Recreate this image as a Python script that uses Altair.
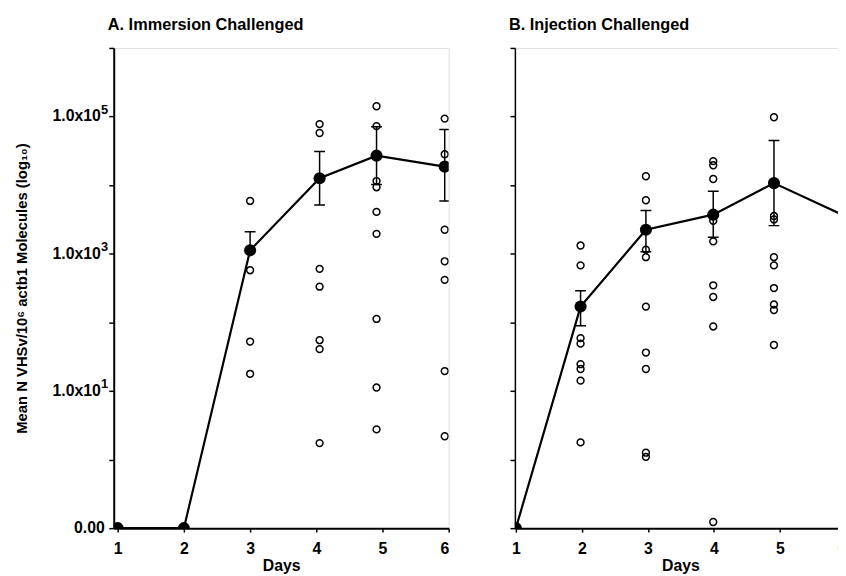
import altair as alt
import pandas as pd

# ---------------- data ----------------
# values are log10(mean N VHSv / 10^6 actb1 molecules); -1 marks a zero, drawn at "0.00"
days = [1, 2, 3, 4, 5, 6]

# Panel A - immersion challenged
xpos_A = [1.0, 2.0, 3.0, 4.05, 4.91, 5.94]
mean_A = [-1, -1, 3.05, 4.10, 4.43, 4.27]
hi_A = [None, None, 3.32, 4.49, 4.85, 4.81]
lo_A = [None, None, None, 3.71, 4.01, 3.77]
fish_A = {
    3: [3.77, 2.76, 1.72, 1.25],
    4: [4.89, 4.76, 2.78, 2.52, 1.74, 1.61, 0.24],
    5: [5.15, 4.86, 4.06, 3.97, 3.61, 3.29, 2.05, 1.05, 0.44],
    6: [4.97, 4.45, 3.35, 2.89, 2.62, 1.29, 0.34],
}

# Panel B - injection challenged
xpos_B = [1.0, 1.98, 2.97, 3.99, 4.91, 5.99]
mean_B = [-1, 2.23, 3.35, 3.57, 4.03, 3.55]
hi_B = [None, 2.46, 3.63, 3.91, 4.65, 4.07]
lo_B = [None, 1.95, 3.03, 3.24, 3.41, 2.98]
fish_B = {
    2: [3.12, 2.83, 1.77, 1.69, 1.39, 1.32, 1.15, 0.25],
    3: [4.13, 3.78, 3.06, 2.95, 2.23, 1.56, 1.32, 0.10, 0.04],
    4: [4.35, 4.29, 4.09, 3.48, 3.18, 2.54, 2.37, 1.94, -0.91],
    5: [4.99, 3.55, 3.50, 2.95, 2.83, 2.50, 2.26, 2.18, 1.67],
    6: [4.49, 3.34, 2.69, 1.44, 0.60],
}

y_ticks = [-1, 0, 1, 2, 3, 4, 5, 6]
y_label_pos = [1, 3, 5]
y_label_base = ["1.0x10", "1.0x10", "1.0x10"]
y_label_exp = ["1", "3", "5"]
zero_label = "0.00"
y_title = "Mean N VHSv/10\u2076 actb1 Molecules (log\u2081\u2080)"

FONT = "Liberation Sans"
FS = 16


def panel(title, xpos, means, his, los, fish, x_domain, width, show_y):
    mdf = pd.DataFrame({"day": days, "x": xpos, "mean": means})
    edf = pd.DataFrame({
        "x": xpos,
        "lo": [l if l is not None else m for l, m in zip(los, means)],
        "hi": his,
    }).dropna(subset=["hi"])
    caps = []
    for x, h, l in zip(xpos, his, los):
        if h is not None:
            caps.append({"x": x, "y": h})
        if l is not None:
            caps.append({"x": x, "y": l})
    cdf = pd.DataFrame(caps)
    pts = []
    for d, vals in fish.items():
        for v in vals:
            pts.append({"x": xpos[days.index(d)], "y": v})
    pdf = pd.DataFrame(pts)

    xs = alt.Scale(domain=x_domain, nice=False, zero=False)
    ys = alt.Scale(domain=[-1, 6], nice=False, zero=False)
    xaxis = alt.Axis(values=days, format="d", title="Days", grid=False,
                     domainColor="black", domainWidth=2, tickColor="black",
                     tickWidth=1.5, tickSize=4, labelFont=FONT, labelFontSize=FS,
                     labelFontWeight="bold", labelColor="black", labelPadding=9,
                     titleFont=FONT, titleFontSize=FS, titleFontWeight="bold",
                     titleColor="black", titlePadding=1)
    if show_y:
        yaxis = alt.Axis(values=y_ticks, labels=False, title=y_title,
                         grid=False, domainColor="black", domainWidth=2,
                         tickColor="black", tickWidth=1.5, tickSize=5,
                         titleFont=FONT, titleFontSize=15, titleFontWeight="bold",
                         titleColor="black", titlePadding=80)
    else:
        yaxis = alt.Axis(values=y_ticks, labels=False, title=None, grid=False,
                         domainColor="black", domainWidth=1.5, tickColor="black",
                         tickWidth=1.5, tickSize=5)

    X = alt.X("x:Q", scale=xs, axis=xaxis)
    base_pts = alt.Chart(pdf).mark_point(shape="circle", filled=False, size=48,
                                         strokeWidth=1.5, color="black", opacity=1,
                                         clip=True).encode(
        x=X, y=alt.Y("y:Q", scale=ys, axis=yaxis))
    rules = alt.Chart(edf).mark_rule(color="black", strokeWidth=1.5, clip=True).encode(
        x=alt.X("x:Q", scale=xs), y=alt.Y("lo:Q", scale=ys), y2="hi:Q")
    capm = alt.Chart(cdf).mark_tick(orient="horizontal", size=11, thickness=1.5,
                                     color="black", opacity=1, clip=True).encode(
        x=alt.X("x:Q", scale=xs), y=alt.Y("y:Q", scale=ys))
    line = alt.Chart(mdf).mark_line(color="black", strokeWidth=2.2, clip=True).encode(
        x=alt.X("x:Q", scale=xs), y=alt.Y("mean:Q", scale=ys), order="day:Q")
    dots = alt.Chart(mdf).mark_circle(color="black", size=150, opacity=1, clip=True).encode(
        x=alt.X("x:Q", scale=xs), y=alt.Y("mean:Q", scale=ys))

    layers = [base_pts, rules, capm, line, dots]
    if show_y:
        ldf = pd.DataFrame({"y": y_label_pos, "base": y_label_base, "exp": y_label_exp})
        zdf = pd.DataFrame({"y": [-1], "t": [zero_label]})
        lab_main = alt.Chart(ldf).mark_text(align="right", baseline="middle", dx=-13,
                                            font=FONT, fontSize=FS, fontWeight="bold",
                                            color="black").encode(
            x=alt.datum(x_domain[0], scale=xs), y=alt.Y("y:Q", scale=ys), text="base:N")
        lab_exp = alt.Chart(ldf).mark_text(align="left", baseline="middle", dx=-13, dy=-7,
                                           font=FONT, fontSize=13, fontWeight="bold",
                                           color="black").encode(
            x=alt.datum(x_domain[0], scale=xs), y=alt.Y("y:Q", scale=ys), text="exp:N")
        lab_zero = alt.Chart(zdf).mark_text(align="right", baseline="middle", dx=-9,
                                            font=FONT, fontSize=FS, fontWeight="bold",
                                            color="black").encode(
            x=alt.datum(x_domain[0], scale=xs), y=alt.Y("y:Q", scale=ys), text="t:N")
        layers += [lab_main, lab_exp, lab_zero]

    return alt.layer(*layers).properties(
        width=width, height=486,
        title=alt.TitleParams(title, anchor="start", frame="group", font=FONT,
                              fontSize=16.5, fontWeight="bold", color="black",
                              offset=14, dx=-6),
    )


A = panel("A. Immersion Challenged", xpos_A, mean_A, hi_A, lo_A, fish_A,
          [0.94, 6.0], 339, True)
B = panel("B. Injection Challenged", xpos_B, mean_B, hi_B, lo_B, fish_B,
          [0.985, 6.0], 335, False)

chart = alt.hconcat(A, B, spacing=58).properties(
    padding={"left": 5, "top": 5, "right": -10, "bottom": 0}
).configure_view(stroke=None).configure(background="white")

chart.save("out.html", embed_options={"renderer": "svg", "actions": False})
